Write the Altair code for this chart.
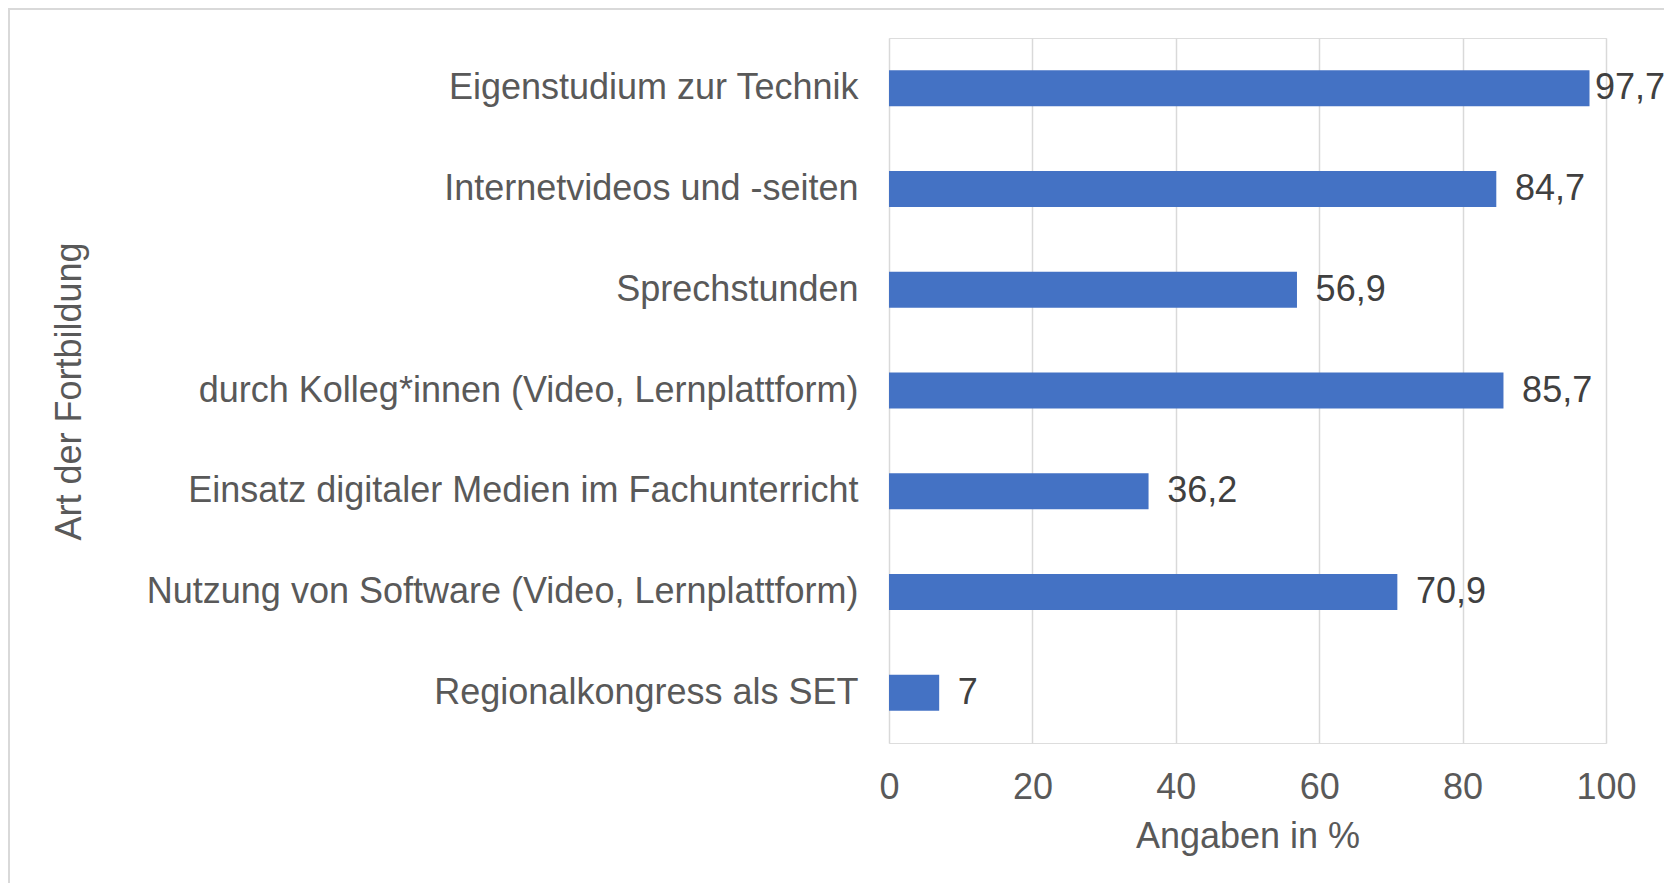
import altair as alt
import pandas as pd

categories = [
    "Eigenstudium zur Technik",
    "Internetvideos und -seiten",
    "Sprechstunden",
    "durch Kolleg*innen (Video, Lernplattform)",
    "Einsatz digitaler Medien im Fachunterricht",
    "Nutzung von Software (Video, Lernplattform)",
    "Regionalkongress als SET",
]
values = [97.7, 84.7, 56.9, 85.7, 36.2, 70.9, 7]
x_ticks = [0, 20, 40, 60, 80, 100]

df = pd.DataFrame({"cat": categories, "value": values})

FONT = "Liberation Sans"
GRAY = "#595959"

y_enc = alt.Y(
    "cat:N",
    sort=None,
    scale=alt.Scale(paddingInner=0, paddingOuter=0),
    axis=alt.Axis(
        title="Art der Fortbildung",
        labelFont=FONT,
        labelFontSize=36,
        labelColor=GRAY,
        labelPadding=31,
        labelLimit=900,
        ticks=False,
        domain=False,
        grid=False,
        titleFont=FONT,
        titleFontSize=36,
        titleFontWeight="normal",
        titleColor=GRAY,
        titleAngle=-90,
        titleAlign="center",
        titleBaseline="alphabetic",
        titleX=-809,
        titleY=353,
    ),
)

x_scale = alt.Scale(domain=[0, 100], nice=False, zero=True)

bars = alt.Chart(df).mark_bar(size=36, color="#4472C4").encode(
    x=alt.X(
        "value:Q",
        scale=x_scale,
        axis=alt.Axis(
            values=x_ticks,
            title="Angaben in %",
            labelFont=FONT,
            labelFontSize=36,
            labelColor=GRAY,
            labelPadding=27,
            labelFlush=False,
            labelOverlap=False,
            ticks=False,
            domain=False,
            grid=True,
            gridColor="#d9d9d9",
            gridWidth=1.5,
            titleFont=FONT,
            titleFontSize=36,
            titleFontWeight="normal",
            titleColor=GRAY,
            titleBaseline="alphabetic",
            titleY=104,
        ),
    ),
    y=y_enc,
)

labels = alt.Chart(df).transform_calculate(
    pos="min(datum.value + 2.6, 98.45)",
    label="replace(toString(datum.value), '.', ',')",
).mark_text(
    align="left", baseline="middle", font=FONT, fontSize=36, color="#404040"
).encode(
    x=alt.X("pos:Q", scale=x_scale),
    y=alt.Y("cat:N", sort=None),
    text="label:N",
)

border = alt.Chart(pd.DataFrame({"a": [0]})).mark_rect(
    fillOpacity=0, stroke="#d9d9d9", strokeWidth=2
).encode(
    x=alt.value(-880), x2=alt.value(1400), y=alt.value(-29), y2=alt.value(1400)
)

chart = alt.layer(bars, labels, border).properties(
    width=717,
    height=705,
    autosize=alt.AutoSizeParams(type="none"),
    padding={"left": 881, "top": 30, "right": 58, "bottom": 140},
).configure_view(stroke=None).configure(background="white")

chart.save("out.html", embed_options={"renderer": "svg", "actions": False})
